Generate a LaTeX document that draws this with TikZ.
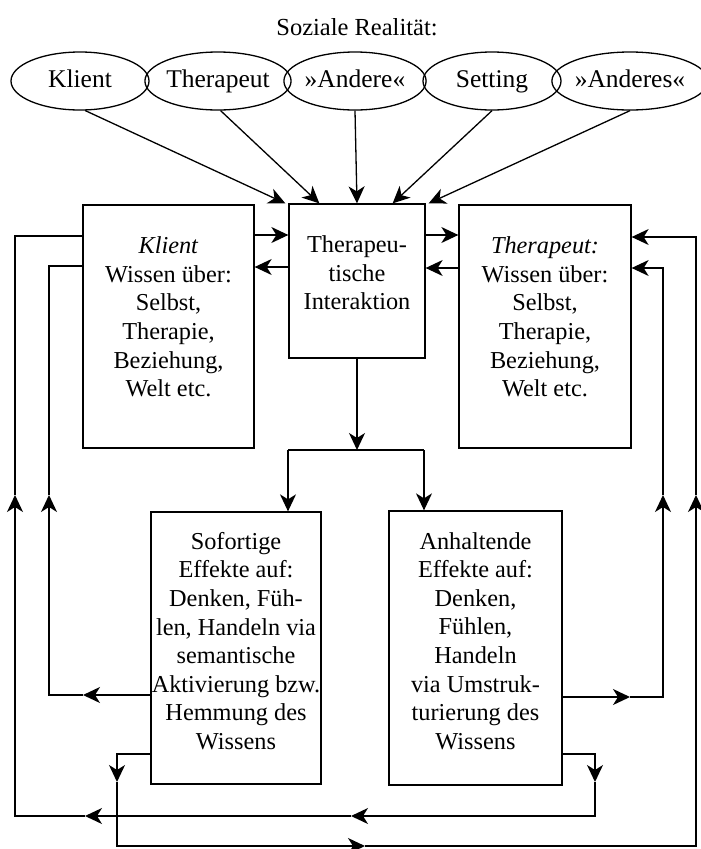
\documentclass[tikz,border=0pt]{standalone}
\usepackage{fontspec}
\setmainfont{Liberation Serif}
\usetikzlibrary{arrows.meta,shapes.geometric,calc}
\begin{document}
\begin{tikzpicture}[x=1pt,y=-1pt,
  line width=1.3pt,
  arr/.style={-{Stealth[length=17pt,width=16pt,inset=5pt]}},
  ell/.style={draw,ellipse,minimum width=138pt,minimum height=58pt,inner sep=0pt,text height=17pt,text depth=5pt,font=\fontsize{25.5}{30}\selectfont},
  box/.style={draw,rectangle,inner sep=0pt},
  txt/.style={align=center,inner sep=0pt,font=\fontsize{24.3}{28.6}\selectfont},
]
\useasboundingbox (0,0) rectangle (701,849);
\node[font=\fontsize{24.5}{29}\selectfont] (title) at (357,27) {Soziale Realität:};
\node[ell] (e1) at (80,81) {Klient};
\node[ell] (e2) at (218,81) {Therapeut};
\node[ell] (e3) at (355,81) {»Andere«};
\node[ell] (e4) at (492,81) {Setting};
\node[ell] (e5) at (630,81) {»Anderes«};

\node[box,minimum width=171pt,minimum height=243pt] (kb) at (168.5,326.5) {};
\node[box,minimum width=136pt,minimum height=154pt] (ib) at (357,281) {};
\node[box,minimum width=172pt,minimum height=243pt] (tb) at (545,326.5) {};
\node[box,minimum width=170pt,minimum height=272pt] (sb) at (236,648) {};
\node[box,minimum width=173pt,minimum height=274pt] (ab) at (475.5,648) {};

\node[txt] (kt) at (168.5,317) {\textit{Klient}\\Wissen über:\\Selbst,\\Therapie,\\Beziehung,\\Welt etc.};
\node[txt] (it) at (357,273) {Therapeu-\\tische\\Interaktion};
\node[txt] (tt) at (545,317) {\textit{Therapeut:}\\Wissen über:\\Selbst,\\Therapie,\\Beziehung,\\Welt etc.};
\node[txt] (st) at (236,641) {Sofortige\\Effekte auf:\\Denken, Füh-\\len, Handeln via\\semantische\\Aktivierung bzw.\\Hemmung des\\Wissens};
\node[txt] (antx) at (475.5,641) {Anhaltende\\Effekte auf:\\Denken,\\Fühlen,\\Handeln\\via Umstruk-\\turierung des\\Wissens};

% from social reality
\draw[arr] (e1.-80) -- ($(ib.north west)+(-3,0)$);
\draw[arr] (e2.-85) -- ($(ib.north west)+(31,0)$);
\draw[arr] (e3.south) -- (ib.north);
\draw[arr] (e4.south) -- ($(ib.north east)+(-33,0)$);
\draw[arr] (e5.south) -- ($(ib.north east)+(3,0)$);

% interaction with knowledge boxes
\draw[arr] (kb.east |- 0,235) -- (ib.west |- 0,235);
\draw[arr] (ib.west |- 0,267) -- (kb.east |- 0,267);
\draw[arr] (ib.east |- 0,235) -- (tb.west |- 0,235);
\draw[arr] (tb.west |- 0,268) -- (ib.east |- 0,268);

% down to effects
\coordinate (sp) at (357,450);
\coordinate (spl) at (288,450);
\coordinate (spr) at (424,450);
\draw[arr] (ib.south) -- (sp);
\draw (spl) -- (spr);
\draw[arr] (spl) -- (sb.north -| spl);
\draw[arr] (spr) -- (ab.north -| spr);

% inner left loop
\coordinate (l1a) at (83,695);
\coordinate (l1b) at (49,695);
\coordinate (l1c) at (49,495);
\coordinate (l1d) at (49,266);
\draw[arr] (sb.west |- l1a) -- (l1a);
\draw[arr] (l1a) -- (l1b) -- (l1c);
\draw (l1c) -- (l1d) -- (kb.west |- l1d);

% outer right loop
\coordinate (r2a) at (117,754);
\coordinate (r2b) at (117,782);
\coordinate (r2c) at (117,846);
\coordinate (r2d) at (365,846);
\coordinate (r2e) at (696,846);
\coordinate (r2f) at (696,495);
\coordinate (r2g) at (696,237);
\draw[arr] (sb.west |- r2a) -- (r2a) -- (r2b);
\draw[arr] (r2b) -- (r2c) -- (r2d);
\draw[arr] (r2d) -- (r2e) -- (r2f);
\draw[arr] (r2f) -- (r2g) -- (tb.east |- r2g);

% inner right loop
\coordinate (r1a) at (630,697);
\coordinate (r1b) at (663,697);
\coordinate (r1c) at (663,495);
\coordinate (r1d) at (663,268);
\draw[arr] (ab.east |- r1a) -- (r1a);
\draw[arr] (r1a) -- (r1b) -- (r1c);
\draw[arr] (r1c) -- (r1d) -- (tb.east |- r1d);

% outer left loop
\coordinate (l2a) at (595,754);
\coordinate (l2b) at (595,782);
\coordinate (l2c) at (595,816);
\coordinate (l2d) at (351,816);
\coordinate (l2e) at (85,816);
\coordinate (l2f) at (15,816);
\coordinate (l2g) at (15,495);
\coordinate (l2h) at (15,236);
\draw[arr] (ab.east |- l2a) -- (l2a) -- (l2b);
\draw[arr] (l2b) -- (l2c) -- (l2d);
\draw[arr] (l2d) -- (l2e);
\draw[arr] (l2e) -- (l2f) -- (l2g);
\draw (l2g) -- (l2h) -- (kb.west |- l2h);
\end{tikzpicture}
\end{document}
